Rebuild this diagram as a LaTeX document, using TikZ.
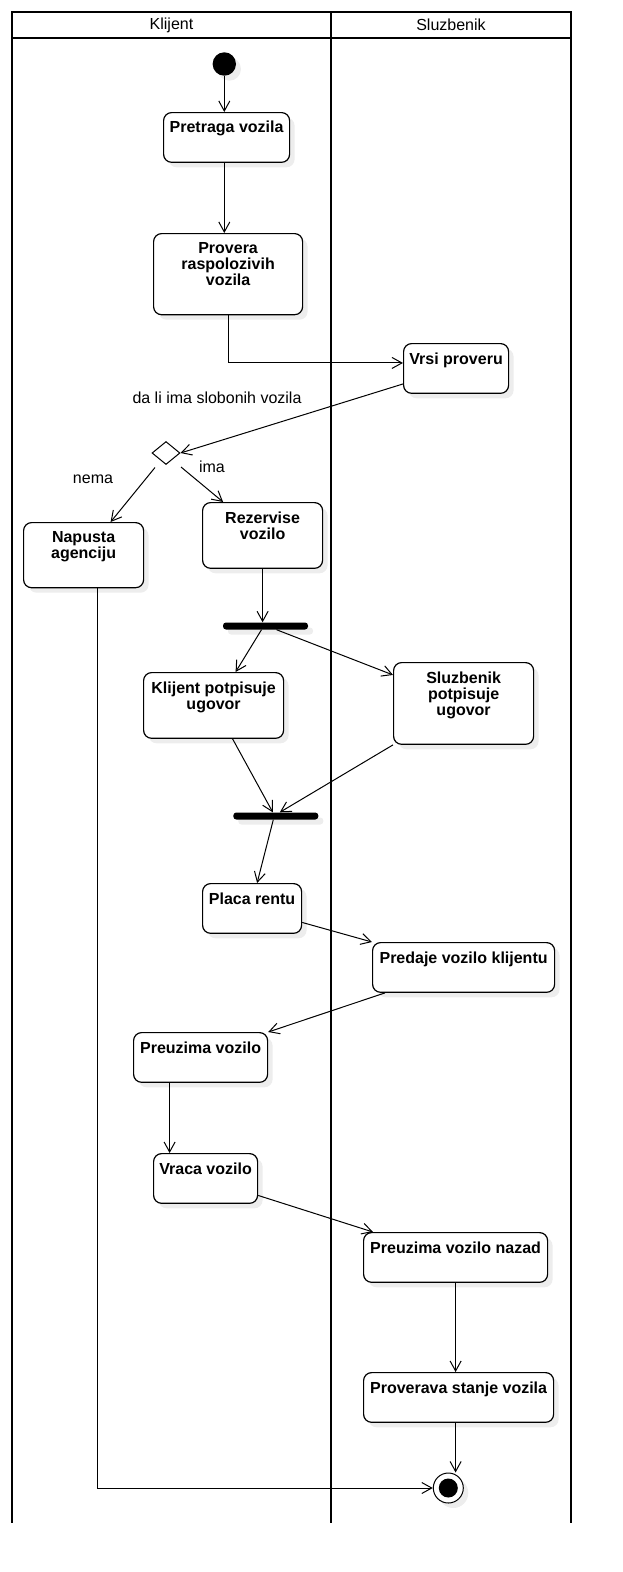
\documentclass[tikz,border=0pt]{standalone}
\usepackage{fontspec}
\setmainfont{Liberation Sans}
\usetikzlibrary{arrows.meta,positioning,shapes.geometric,shadows}

% empty space under the last line of an action box
\newcommand{\botgap}{\rule[-20.5pt]{0pt}{20.5pt}}

\begin{document}
\begin{tikzpicture}[x=1pt, y=-1pt, >={Straight Barb[length=10pt,width=11pt]},
  soft shadow/.style={drop shadow={shadow xshift=5pt, shadow yshift=-5pt, fill=black, opacity=0.07}},
  act node/.style={draw, rounded corners=8pt, line width=1.2pt, fill=white, anchor=north west, align=center, inner xsep=2pt, inner ysep=8.8pt, font=\bfseries\fontsize{16}{16}\selectfont, soft shadow},
  bar node/.style={fill=black, rounded corners=3pt, minimum width=85pt, minimum height=7pt, inner sep=0pt, soft shadow},
  start node/.style={circle, fill=black, minimum size=23.4pt, inner sep=0pt, soft shadow},
  end node/.style={circle, draw, fill=white, line width=1pt, minimum size=30pt, inner sep=0pt, soft shadow, path picture={\fill[black] (path picture bounding box.center) circle (9.5pt);}},
  choice node/.style={diamond, draw, fill=white, line width=1pt, minimum width=28pt, minimum height=23pt, inner sep=0pt},
  note/.style={font=\fontsize{16}{18}\selectfont, inner sep=0pt},
  lane line/.style={line width=2.6pt, line cap=rect},
  lane title/.style={font=\fontsize{16}{18}\selectfont, inner sep=0pt}]
\useasboundingbox (0,0) rectangle (622,1572);

% swimlanes
\draw[lane line] (12,1522) -- (12,12) -- (571,12) -- (571,1522);
\draw[lane line] (12,38) -- (571,38);
\draw[lane line] (331,12) -- (331,1522);
\node[lane title] (hklijent) at (171.5,25) {Klijent};
\node[lane title] (hsluzbenik) at (451,25) {Sluzbenik};

\begin{scope}
\node[start node] (start) at (224.3,64) {};
\node[act node, minimum width=126pt] (pretraga) at (163,112) {Pretraga vozila\botgap};
\node[act node, minimum width=149pt] (provera) at (153,233) {Provera\\raspolozivih\\vozila\botgap};
\node[act node, minimum width=105pt] (vrsi) at (403,343) {Vrsi proveru\botgap};
\node[choice node] (izbor) at (166,453) {};
\node[act node, minimum width=120pt] (napusta) at (23,522) {Napusta\\agenciju\botgap};
\node[act node, minimum width=120pt] (rezervise) at (202,502) {Rezervise\\vozilo\botgap};
\node[bar node] (fork) at (265.5,626) {};
\node[act node, minimum width=140pt] (klijentpot) at (143,672) {Klijent potpisuje\\ugovor\botgap};
\node[act node, minimum width=140pt] (sluzpot) at (393,662) {Sluzbenik\\potpisuje\\ugovor\botgap};
\node[bar node] (join) at (275.8,816) {};
\node[act node, minimum width=99pt] (placa) at (202,883) {Placa rentu\botgap};
\node[act node, minimum width=182pt] (predaje) at (372,942) {Predaje vozilo klijentu\botgap};
\node[act node, minimum width=134pt] (preuzima) at (133,1032) {Preuzima vozilo\botgap};
\node[act node, minimum width=104pt] (vraca) at (153,1153) {Vraca vozilo\botgap};
\node[act node, minimum width=184pt] (nazad) at (363,1232) {Preuzima vozilo nazad\botgap};
\node[act node, minimum width=190pt] (proverava) at (363,1372) {Proverava stanje vozila\botgap};
\node[end node] (kraj) at (448.3,1488) {};
\end{scope}

% guard labels
\node[note] (pitanje) at (217,398) {da li ima slobonih vozila};
\node[note] (nema) at (93,479) {nema};
\node[note] (ima) at (212,467) {ima};

\begin{scope}[->, line width=1pt]
\draw (start) -- (start |- pretraga.north);
\draw (pretraga.south -| start) -- (provera.north -| start);
\draw (provera.south) |- ([yshift=5.5pt]vrsi.west);
\draw ([yshift=-15.5pt]vrsi.west) -- (izbor.east);
\draw ([xshift=-11pt,yshift=-2.5pt]izbor.south) -- ([xshift=27pt]napusta.north);
\draw ([xshift=15pt,yshift=-2pt]izbor.south) -- ([xshift=-39.5pt]rezervise.north);
\draw (rezervise.south) -- (rezervise.south |- fork.north);
\draw ([xshift=-4pt]fork.south) -- ([xshift=22pt]klijentpot.north);
\draw ([xshift=11pt]fork.south) -- ([yshift=28.5pt]sluzpot.west);
\draw ([xshift=19pt]klijentpot.south) -- ([xshift=-3pt]join.north);
\draw (sluzpot.south west) -- ([xshift=4pt]join.north);
\draw ([xshift=-2.5pt]join.south) -- ([xshift=5pt]placa.north);
\draw ([yshift=-14pt]placa.east) -- (predaje.north west);
\draw ([xshift=13pt]predaje.south west) -- (preuzima.north east);
\draw ([xshift=-31pt]preuzima.south) -- ([xshift=-31pt]preuzima.south |- vraca.north);
\draw ([yshift=-17pt]vraca.east) -- ([xshift=10pt]nazad.north west);
\draw (nazad.south) -- (nazad.south |- proverava.north);
\draw (nazad.south |- proverava.south) -- (nazad.south |- kraj.north);
\draw ([xshift=14pt]napusta.south) |- (kraj.west);
\end{scope}
\end{tikzpicture}
\end{document}
